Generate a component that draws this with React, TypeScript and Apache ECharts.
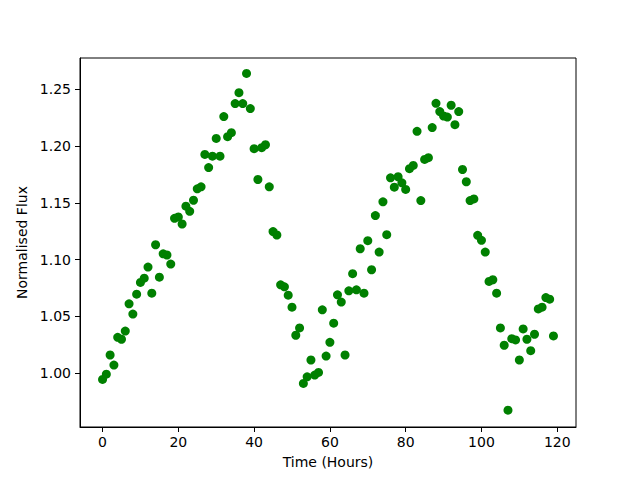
import React, { useEffect, useRef } from "react";
import * as echarts from "echarts";

const hours = [
  0, 1, 2, 3, 4, 5, 6, 7, 8, 9, 10, 11, 12, 13, 14, 15, 16, 17, 18, 19,
  20, 21, 22, 23, 24, 25, 26, 27, 28, 29, 30, 31, 32, 33, 34, 35, 36, 37, 38, 39,
  40, 41, 42, 43, 44, 45, 46, 47, 48, 49, 50, 51, 52, 53, 54, 55, 56, 57, 58, 59,
  60, 61, 62, 63, 64, 65, 66, 67, 68, 69, 70, 71, 72, 73, 74, 75, 76, 77, 78, 79,
  80, 81, 82, 83, 84, 85, 86, 87, 88, 89, 90, 91, 92, 93, 94, 95, 96, 97, 98, 99,
  100, 101, 102, 103, 104, 105, 106, 107, 108, 109, 110, 111, 112, 113, 114, 115, 116, 117, 118, 119,
];

const flux = [
  0.9944, 0.999, 1.0159, 1.007, 1.0315, 1.0298, 1.037, 1.061, 1.052, 1.0695,
  1.0798, 1.0836, 1.0934, 1.0704, 1.113, 1.0845, 1.105, 1.104, 1.096, 1.1363,
  1.1375, 1.1313, 1.147, 1.1425, 1.1522, 1.1623, 1.164, 1.1926, 1.181, 1.191,
  1.2067, 1.191, 1.2259, 1.2082, 1.2117, 1.2374, 1.247, 1.2374, 1.2639, 1.233,
  1.1976, 1.1705, 1.1985, 1.2011, 1.164, 1.1246, 1.1216, 1.0777, 1.076, 1.0686,
  1.058, 1.0333, 1.0398, 0.9909, 0.9967, 1.0115, 0.9982, 1.0006, 1.0557, 1.015,
  1.0271, 1.0439, 1.0689, 1.0625, 1.0159, 1.0724, 1.0875, 1.0733, 1.1095, 1.0704,
  1.1166, 1.091, 1.1387, 1.1066, 1.1508, 1.1219, 1.172, 1.1637, 1.1729, 1.1676,
  1.1617, 1.18, 1.1829, 1.2129, 1.1519, 1.1882, 1.1897, 1.2162, 1.2376, 1.2303,
  1.2264, 1.2255, 1.2359, 1.2188, 1.2303, 1.1793, 1.1685, 1.1519, 1.1534, 1.1213,
  1.1169, 1.1066, 1.0807, 1.0822, 1.0704, 1.0398, 1.0245, 0.9673, 1.0303, 1.0292,
  1.0115, 1.0389, 1.0298, 1.0197, 1.0342, 1.0565, 1.058, 1.0665, 1.0651, 1.0327,
];

const xTicks = [0, 20, 40, 60, 80, 100, 120];
const yTicks = [1.0, 1.05, 1.1, 1.15, 1.2, 1.25];

const FONT = "DejaVu Sans";

export default function App() {
  const ref = useRef<HTMLDivElement>(null);
  useEffect(() => {
    if (!ref.current) return;
    const chart = echarts.init(ref.current, null, { renderer: "svg" });
    const data = hours.map((h, i) => [h, flux[i]]);
    chart.setOption({
      animation: false,
      backgroundColor: "#ffffff",
      grid: {
        left: 80,
        right: 64,
        top: 58,
        bottom: 53,
        show: true,
        borderColor: "#000000",
        borderWidth: 1,
        backgroundColor: "transparent",
      },
      xAxis: {
        type: "value",
        min: -5.95,
        max: 124.95,
        name: "Time (Hours)",
        nameLocation: "middle",
        nameGap: 28,
        nameTextStyle: { fontFamily: FONT, fontSize: 14, color: "#000" },
        axisLine: { show: true, onZero: false, lineStyle: { color: "#000", width: 1 } },
        axisTick: {
          show: true,
          inside: false,
          length: 5,
          customValues: xTicks,
          lineStyle: { color: "#000" },
        },
        axisLabel: {
          customValues: xTicks,
          margin: 8,
          fontFamily: FONT,
          fontSize: 14,
          color: "#000",
          formatter: (v: number) => String(v),
        },
        splitLine: { show: false },
      },
      yAxis: {
        type: "value",
        min: 0.9525,
        max: 1.2775,
        name: "Normalised Flux",
        nameLocation: "middle",
        nameGap: 45,
        nameTextStyle: { fontFamily: FONT, fontSize: 14, color: "#000" },
        axisLine: { show: true, onZero: false, lineStyle: { color: "#000", width: 1 } },
        axisTick: {
          show: true,
          inside: false,
          length: 5,
          customValues: yTicks,
          lineStyle: { color: "#000" },
        },
        axisLabel: {
          customValues: yTicks,
          margin: 9,
          fontFamily: FONT,
          fontSize: 14,
          color: "#000",
          formatter: (v: number) => v.toFixed(2),
        },
        splitLine: { show: false },
      },
      series: [
        {
          type: "scatter",
          data,
          symbol: "circle",
          symbolSize: 9,
          itemStyle: { color: "#008000", opacity: 1 },
        },
      ],
    });
    return () => chart.dispose();
  }, []);
  return <div ref={ref} style={{ width: 640, height: 480, margin: -8 }} />;
}
